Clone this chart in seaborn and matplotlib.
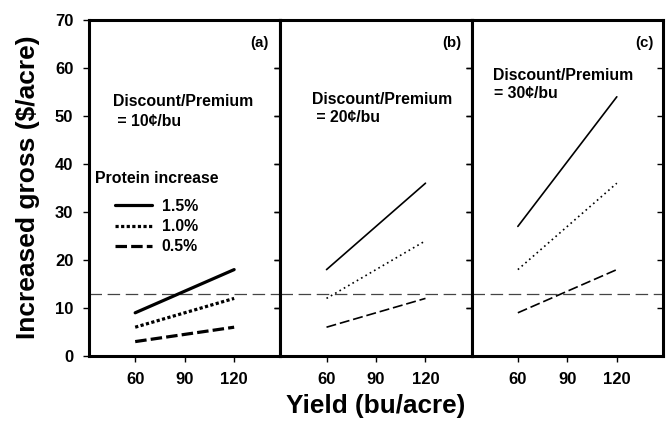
import matplotlib
matplotlib.use("Agg")
import matplotlib.pyplot as plt
import seaborn as sns
import pandas as pd
from matplotlib.lines import Line2D

# ---- data ----
yields = [60, 120]
protein_levels = ["1.5%", "1.0%", "0.5%"]
panel_labels = ["(a)", "(b)", "(c)"]
premium_line1 = ["Discount/Premium", "Discount/Premium", "Discount/Premium"]
premium_line2 = [" = 10¢/bu", " = 20¢/bu", "= 30¢/bu"]
gain_a = {"1.5%": [9, 18], "1.0%": [6, 12], "0.5%": [3, 6]}
gain_b = {"1.5%": [18, 36], "1.0%": [12, 24], "0.5%": [6, 12]}
gain_c = {"1.5%": [27, 54], "1.0%": [18, 36], "0.5%": [9, 18]}
breakeven = 13
x_ticks = [60, 90, 120]
y_ticks = [0, 10, 20, 30, 40, 50, 60, 70]

sns.set_theme(style="white")
plt.rcParams["font.family"] = ["Liberation Sans", "DejaVu Sans"]
plt.rcParams["font.weight"] = "bold"
plt.rcParams["text.color"] = "black"
plt.rcParams["axes.labelcolor"] = "black"
plt.rcParams["xtick.color"] = "black"
plt.rcParams["ytick.color"] = "black"

W, H = 666, 432
fig = plt.figure(figsize=(W / 100, H / 100), dpi=100)
axes = fig.subplots(1, 3, sharey=True)
fig.subplots_adjust(left=89 / W, right=663 / W, top=1 - 20 / H, bottom=1 - 356 / H, wspace=0)

styles = {"1.5%": "-", "1.0%": (0, (1, 0.75)), "0.5%": (0, (3.6, 1.3))}
styles_thin = {"1.5%": "-", "1.0%": (0, (1, 2.0)), "0.5%": (0, (6.0, 2.3))}
gains = [gain_a, gain_b, gain_c]
text_pos = [(113, 102, 121), (312, 99, 117.5), (493.5, 75, 93.5)]
TXT = 11.4

for i, ax in enumerate(axes):
    g = gains[i]
    for p in protein_levels:
        df = pd.DataFrame({"Yield": yields, "Gain": g[p]})
        if i == 0:
            sns.lineplot(data=df, x="Yield", y="Gain", ax=ax, color="black",
                         linestyle=styles[p], linewidth=2.3, legend=False)
        else:
            sns.lineplot(data=df, x="Yield", y="Gain", ax=ax, color="black",
                         linestyle=styles_thin[p], linewidth=1.2, legend=False)
    ax.axhline(breakeven, color="#444444", linewidth=0.9, linestyle=(0, (10, 4.5)), zorder=1)
    ax.set_xlim(32, 148)
    ax.set_ylim(0, 70)
    ax.set_xticks(x_ticks)
    ax.set_xticklabels([str(t) for t in x_ticks], fontsize=12, fontweight="bold")
    ax.set_yticks(y_ticks)
    ax.set_xlabel("")
    ax.set_ylabel("")
    for s in ax.spines.values():
        s.set_linewidth(2.2)
        s.set_color("black")
    ax.tick_params(axis="x", direction="out", length=4.3, width=1, bottom=True, pad=7.5, colors="black")
    ax.tick_params(axis="y", direction="out", length=4.3, width=1, left=(i == 0), pad=7,
                   labelleft=(i == 0), colors="black")
    # inward right ticks
    tw = ax.twinx()
    tw.set_ylim(0, 70)
    tw.set_yticks(y_ticks)
    tw.tick_params(axis="y", direction="in", length=4, width=1, right=True, labelright=False, colors="black")
    tw.grid(False)
    for s in tw.spines.values():
        s.set_visible(False)
    right_px = [269, 461, 654][i]
    fig.text(right_px / W, 1 - 42.5 / H, panel_labels[i], ha="right", va="center",
             fontsize=10.8, fontweight="bold")
    x0, y1, y2 = text_pos[i]
    fig.text(x0 / W, 1 - y1 / H, premium_line1[i], ha="left", va="center",
             fontsize=TXT, fontweight="bold")
    fig.text(x0 / W, 1 - y2 / H, premium_line2[i], ha="left", va="center",
             fontsize=TXT, fontweight="bold")

for lab in axes[0].get_yticklabels():
    lab.set_fontsize(12)
    lab.set_fontweight("bold")

# legend in panel (a)
fig.text(95 / W, 1 - 178.5 / H, "Protein increase", ha="left", va="center", fontsize=TXT, fontweight="bold")
handles = [Line2D([], [], color="black", linewidth=2.3, linestyle=styles[p]) for p in protein_levels]
leg = axes[0].legend(handles, protein_levels, loc="upper left",
                     bbox_to_anchor=(115 / W, 1 - 199 / H), bbox_transform=fig.transFigure,
                     frameon=False, handlelength=2.35, handletextpad=0.6, labelspacing=0.33,
                     borderpad=0, borderaxespad=0, prop={"size": TXT, "weight": "bold"})

fig.text(28 / W, 1 - 187 / H, "Increased gross ($/acre)", rotation=90, ha="center", va="center",
         fontsize=19, fontweight="bold")
fig.text(376 / W, 1 - 406 / H, "Yield (bu/acre)", ha="center", va="center",
         fontsize=18.8, fontweight="bold")

fig.savefig("out.png", dpi=100)
